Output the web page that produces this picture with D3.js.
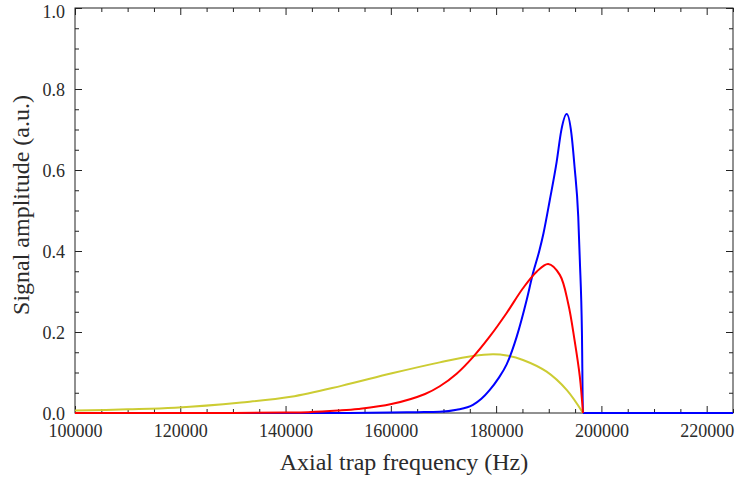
<!DOCTYPE html>
<html>
<head>
<meta charset="utf-8">
<script src="https://cdn.jsdelivr.net/npm/d3@7"></script>
<style>
  body { margin: 0; background: #fff; }
</style>
</head>
<body>
<div id="root"></div>
<script>
// values
let blueFreq = [100000, 150000, 160000, 165000, 169300, 172500, 175600, 177200, 178800, 180400, 182000, 183900, 185800, 187000, 188200, 189000, 190200, 191500, 192400, 193400, 194300, 194900, 195600, 195900, 196300, 196500, 225000];
let blueAmp  = [0, 0, 0.001, 0.002, 0.003, 0.008, 0.02, 0.035, 0.057, 0.085, 0.12, 0.188, 0.279, 0.345, 0.40, 0.444, 0.526, 0.62, 0.699, 0.738, 0.69, 0.608, 0.485, 0.378, 0.2, 0, 0];

let redFreq = [100000, 130000, 140000, 144300, 150000, 153800, 160100, 166500, 169300, 172500, 175600, 178800, 182000, 185100, 187700, 189900, 192100, 193700, 194900, 195900, 196500];
let redAmp  = [0, 0, 0.001, 0.002, 0.006, 0.01, 0.022, 0.047, 0.066, 0.097, 0.138, 0.189, 0.247, 0.308, 0.349, 0.368, 0.341, 0.27, 0.18, 0.09, 0];

let yellowFreq = [100000, 110000, 119000, 131600, 141000, 150600, 160200, 169300, 175600, 179500, 182000, 185100, 189600, 193400, 196500];
let yellowAmp  = [0.006, 0.009, 0.013, 0.026, 0.04, 0.067, 0.098, 0.125, 0.141, 0.145, 0.142, 0.131, 0.102, 0.057, 0];

let xMajor = [100000, 120000, 140000, 160000, 180000, 200000, 220000];
let yMajor = [0, 0.2, 0.4, 0.6, 0.8, 1.0];

let fontFamily = '"Liberation Serif", "Times New Roman", "DejaVu Serif", serif';
let textColor = '#2b2b2b';

let width = 736, height = 483;
let margin = { left: 75, right: 3, top: 8, bottom: 70 };

let svg = d3.select('#root').append('svg')
    .attr('width', width)
    .attr('height', height);

let x = d3.scaleLinear()
    .domain([100000, 225000])
    .range([margin.left, width - margin.right]);

let y = d3.scaleLinear()
    .domain([0, 1])
    .range([height - margin.bottom, margin.top]);

let xMinor = d3.range(100000, 225001, 5000).filter(v => v % 20000 !== 0);
let yMinor = d3.range(0, 1.001, 0.05).filter(v => Math.abs(v * 5 - Math.round(v * 5)) > 1e-6);

function styleAxis(g) {
    g.attr('font-family', fontFamily);
    g.select('.domain').remove();
    g.selectAll('line').attr('stroke', '#222').attr('stroke-width', 1);
    g.selectAll('text')
        .attr('font-size', 18)
        .attr('font-family', fontFamily)
        .attr('fill', textColor);
}

// major ticks with labels (inward)
svg.append('g')
    .attr('transform', 'translate(0,' + y(0) + ')')
    .call(d3.axisBottom(x).tickValues(xMajor).tickFormat(d3.format('d')).tickSize(-7).tickPadding(11))
    .call(styleAxis);

let yAxisG = svg.append('g')
    .attr('transform', 'translate(' + x(100000) + ',0)')
    .call(d3.axisLeft(y).tickValues(yMajor).tickFormat(d3.format('.1f')).tickSize(-7).tickPadding(10))
    .call(styleAxis);

// the top label sits a little lower, as in the original
yAxisG.selectAll('text').attr('dy', d => d === 1 ? '0.5em' : '0.36em');

// top / right major ticks, no labels
svg.append('g')
    .attr('transform', 'translate(0,' + y(1) + ')')
    .call(d3.axisTop(x).tickValues(xMajor).tickFormat('').tickSize(-7))
    .call(styleAxis);

svg.append('g')
    .attr('transform', 'translate(' + x(225000) + ',0)')
    .call(d3.axisRight(y).tickValues(yMajor).tickFormat('').tickSize(-7))
    .call(styleAxis);

// minor ticks on all four sides
svg.append('g')
    .attr('transform', 'translate(0,' + y(0) + ')')
    .call(d3.axisBottom(x).tickValues(xMinor).tickFormat('').tickSize(-4))
    .call(styleAxis);
svg.append('g')
    .attr('transform', 'translate(0,' + y(1) + ')')
    .call(d3.axisTop(x).tickValues(xMinor).tickFormat('').tickSize(-4))
    .call(styleAxis);
svg.append('g')
    .attr('transform', 'translate(' + x(100000) + ',0)')
    .call(d3.axisLeft(y).tickValues(yMinor).tickFormat('').tickSize(-4))
    .call(styleAxis);
svg.append('g')
    .attr('transform', 'translate(' + x(225000) + ',0)')
    .call(d3.axisRight(y).tickValues(yMinor).tickFormat('').tickSize(-4))
    .call(styleAxis);

// frame
svg.append('rect')
    .attr('x', x(100000))
    .attr('y', y(1))
    .attr('width', x(225000) - x(100000))
    .attr('height', y(0) - y(1))
    .attr('fill', 'none')
    .attr('stroke', '#222')
    .attr('stroke-width', 1);

let smooth = d3.line()
    .x(d => x(d[0]))
    .y(d => y(d[1]))
    .curve(d3.curveCatmullRom.alpha(0.5));

let mono = d3.line()
    .x(d => x(d[0]))
    .y(d => y(d[1]))
    .curve(d3.curveMonotoneX);

let series = [
    { freq: yellowFreq, amp: yellowAmp, color: '#cccc33', line: smooth },
    { freq: blueFreq, amp: blueAmp, color: '#0000ff', line: mono },
    { freq: redFreq, amp: redAmp, color: '#ff0000', line: smooth }
];

series.forEach(function (s) {
    svg.append('path')
        .datum(d3.zip(s.freq, s.amp))
        .attr('d', s.line)
        .attr('fill', 'none')
        .attr('stroke', s.color)
        .attr('stroke-width', 2);
});

// axis titles
svg.append('text')
    .attr('x', (x(100000) + x(225000)) / 2)
    .attr('y', 470)
    .attr('text-anchor', 'middle')
    .attr('font-family', fontFamily)
    .attr('fill', textColor)
    .attr('font-size', 24)
    .text('Axial trap frequency (Hz)');

svg.append('text')
    .attr('transform', 'translate(29,' + 205 + ') rotate(-90)')
    .attr('text-anchor', 'middle')
    .attr('font-family', fontFamily)
    .attr('fill', textColor)
    .attr('font-size', 24)
    .text('Signal amplitude (a.u.)');
</script>
</body>
</html>
